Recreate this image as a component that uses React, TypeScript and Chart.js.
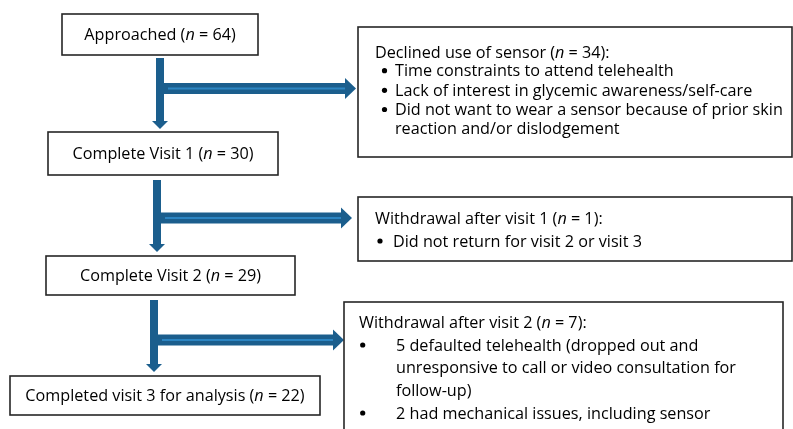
import React, { useEffect, useRef } from "react";
import { Chart, registerables } from "chart.js";

Chart.register(...registerables);

// ---- data ----
const stageLabels = ["Approached", "Complete Visit 1", "Complete Visit 2", "Completed visit 3 for analysis"];
const stageCounts = [64, 30, 29, 22];
const exitTitles = ["Declined use of sensor", "Withdrawal after visit 1", "Withdrawal after visit 2"];
const exitCounts = [34, 1, 7];
const exitReasons1 = [
  ["Time constraints to attend telehealth"],
  ["Lack of interest in glycemic awareness/self-care"],
  ["Did not want to wear a sensor because of prior skin", "reaction and/or dislodgement"],
];
const exitReasons2 = [["Did not return for visit 2 or visit 3"]];
const exitReasons3 = [
  ["5 defaulted telehealth (dropped out and", "unresponsive to call or video consultation for", "follow-up)"],
  ["2 had mechanical issues, including sensor"],
];
const exitReasons = [exitReasons1, exitReasons2, exitReasons3];

// ---- layout (pixel space of the hidden linear scales) ----
const stageBoxes = [
  { x0: 62, y0: 14, x1: 258, y1: 55 },
  { x0: 48, y0: 132, x1: 278, y1: 175 },
  { x0: 46, y0: 256, x1: 295, y1: 295 },
  { x0: 10, y0: 376, x1: 320, y1: 415 },
];
const exitBoxes = [
  { x0: 358, y0: 27, x1: 792, y1: 157, tx: 375, ty: 52, bx: 384.5, btx: 395, lines: [70.7, 90.3, 109.5, 128.3] },
  { x0: 358, y0: 197, x1: 792, y1: 261, tx: 375, ty: 218, bx: 380, btx: 393, lines: [241] },
  { x0: 344, y0: 302, x1: 783, y1: 440, tx: 359, ty: 322, bx: 362.7, btx: 396, lines: [345, 367.5, 390, 413] },
];
const arrows = [
  { vx: 160, vy0: 58, vtip: 129, hy: 88.5, htip: 356 },
  { vx: 157, vy0: 180, vtip: 252, hy: 218, htip: 352 },
  { vx: 154, vy0: 300, vtip: 372, hy: 340, htip: 344 },
];

const FONT = "'Open Sans', 'Noto Sans', sans-serif";
const FS = 16.2;
const TY = 1; // vertical text nudge
const ARROW = "#1B5E8D";
const STRIPE = "#2C85C2";
const BORDER = "#262626";

function richParts(label: string, count: number) {
  return [
    { t: label + " (", it: false },
    { t: "n", it: true },
    { t: " = " + count + ")", it: false },
  ];
}

function drawRich(ctx: CanvasRenderingContext2D, parts: { t: string; it: boolean }[], x: number, y: number, center: boolean) {
  let total = 0;
  const widths = parts.map((p) => {
    ctx.font = `${p.it ? "italic " : ""}${FS}px ${FONT}`;
    const w = ctx.measureText(p.t).width;
    total += w;
    return w;
  });
  let cx = center ? x - total / 2 : x;
  parts.forEach((p, i) => {
    ctx.font = `${p.it ? "italic " : ""}${FS}px ${FONT}`;
    ctx.fillText(p.t, cx, y);
    cx += widths[i];
  });
}

const flowPlugin = {
  id: "flow",
  afterDraw(chart: any) {
    const ctx: CanvasRenderingContext2D = chart.ctx;
    const xs = chart.scales.x;
    const ys = chart.scales.y;
    const px = (v: number) => xs.getPixelForValue(v);
    const py = (v: number) => ys.getPixelForValue(v);
    ctx.save();
    ctx.textBaseline = "middle";
    ctx.fillStyle = "#000";

    arrows.forEach((a) => {
      const hw = 4, hh = 8, headW = 8;
      ctx.fillStyle = ARROW;
      const hStart = a.vx + hw;
      const hHeadStart = a.htip - 11;
      ctx.fillRect(px(hStart), py(a.hy - 5.5), px(hHeadStart) - px(hStart), py(a.hy + 5.5) - py(a.hy - 5.5));
      ctx.beginPath();
      ctx.moveTo(px(hHeadStart), py(a.hy - 10.5));
      ctx.lineTo(px(a.htip), py(a.hy));
      ctx.lineTo(px(hHeadStart), py(a.hy + 10.5));
      ctx.closePath();
      ctx.fill();
      ctx.fillStyle = STRIPE;
      ctx.fillRect(px(hStart + 4), py(a.hy - 1), px(hHeadStart) - px(hStart + 4), 2);
      ctx.fillStyle = ARROW;
      ctx.fillRect(px(a.vx - hw), py(a.vy0), px(a.vx + hw) - px(a.vx - hw), py(a.vtip - hh) - py(a.vy0));
      ctx.beginPath();
      ctx.moveTo(px(a.vx - headW), py(a.vtip - hh));
      ctx.lineTo(px(a.vx), py(a.vtip));
      ctx.lineTo(px(a.vx + headW), py(a.vtip - hh));
      ctx.closePath();
      ctx.fill();
    });

    ctx.lineWidth = 1.6;
    ctx.strokeStyle = BORDER;
    stageBoxes.forEach((b, i) => {
      ctx.fillStyle = "#fff";
      ctx.fillRect(px(b.x0), py(b.y0), px(b.x1) - px(b.x0), py(b.y1) - py(b.y0));
      ctx.strokeRect(px(b.x0), py(b.y0), px(b.x1) - px(b.x0), py(b.y1) - py(b.y0));
      ctx.fillStyle = "#000";
      drawRich(ctx, richParts(stageLabels[i], stageCounts[i]), px((b.x0 + b.x1) / 2), py((b.y0 + b.y1) / 2 + TY), true);
    });

    exitBoxes.forEach((b, i) => {
      ctx.fillStyle = "#fff";
      ctx.fillRect(px(b.x0), py(b.y0), px(b.x1) - px(b.x0), py(b.y1) - py(b.y0));
      ctx.strokeRect(px(b.x0), py(b.y0), px(b.x1) - px(b.x0), py(b.y1) - py(b.y0));
      ctx.fillStyle = "#000";
      const parts = richParts(exitTitles[i], exitCounts[i]);
      parts[2].t += ":";
      drawRich(ctx, parts, px(b.tx), py(b.ty + TY), false);
      ctx.font = `${FS}px ${FONT}`;
      let li = 0;
      exitReasons[i].forEach((reason) => {
        reason.forEach((line, k) => {
          const y = b.lines[li++];
          if (k === 0) {
            ctx.beginPath();
            ctx.arc(px(b.bx), py(y), 2.6, 0, Math.PI * 2);
            ctx.fill();
          }
          ctx.fillText(line, px(b.btx), py(y + TY));
        });
      });
    });
    ctx.restore();
  },
};

export default function App() {
  const ref = useRef<HTMLCanvasElement>(null);
  useEffect(() => {
    document.body.style.margin = "0";
    const chart = new Chart(ref.current!, {
      type: "scatter",
      data: { datasets: [{ data: [], pointRadius: 0 }] },
      options: {
        animation: false,
        responsive: false,
        maintainAspectRatio: false,
        layout: { padding: 0 },
        plugins: { legend: { display: false }, tooltip: { enabled: false } },
        scales: {
          x: { type: "linear", min: 0, max: 793, display: false },
          y: { type: "linear", min: 0, max: 429, reverse: true, display: false },
        },
      },
      plugins: [flowPlugin],
    });
    return () => chart.destroy();
  }, []);
  return (
    <div style={{ position: "fixed", left: 0, top: 0, width: 793, height: 429, background: "#fff" }}>
      <canvas ref={ref} width={793} height={429} />
    </div>
  );
}
